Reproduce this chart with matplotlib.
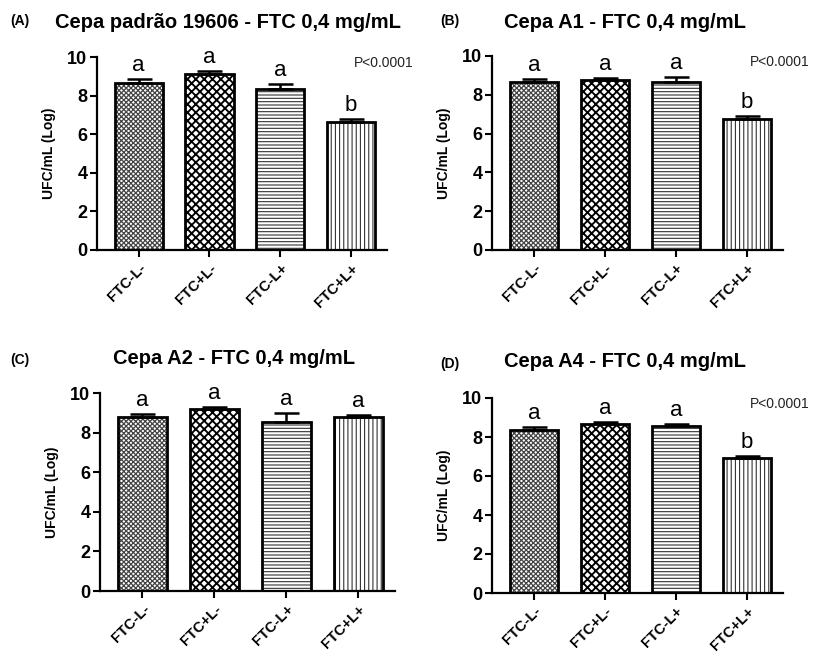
import numpy as np
import matplotlib
matplotlib.use("Agg")
import matplotlib.pyplot as plt

plt.rcParams["font.family"] = ["Liberation Sans", "DejaVu Sans"]

groups = ["FTC-L-", "FTC+L-", "FTC-L+", "FTC+L+"]
# hatch, hatch colour, hatch line width per group
hatches = ["xxxxxxx", "xxxx", "-----", "||||"]
hatch_colors = ["#444444", "black", "#333333", "#333333"]
hatch_widths = [0.9, 1.35, 0.8, 0.8]

tags = ["(A)", "(B)", "(C)", "(D)"]
titles = [
    "Cepa padrão 19606 - FTC 0,4 mg/mL",
    "Cepa A1 - FTC 0,4 mg/mL",
    "Cepa A2 - FTC 0,4 mg/mL",
    "Cepa A4 - FTC 0,4 mg/mL",
]

means_a = [8.66, 9.10, 8.36, 6.62]
err_a = [0.22, 0.18, 0.26, 0.19]
means_b = [8.66, 8.76, 8.66, 6.74]
err_b = [0.17, 0.11, 0.24, 0.18]
means_c = [8.81, 9.18, 8.54, 8.79]
err_c = [0.11, 0.10, 0.45, 0.12]
means_d = [8.38, 8.68, 8.58, 6.92]
err_d = [0.13, 0.07, 0.10, 0.09]

letters_a = ["a", "a", "a", "b"]
letters_b = ["a", "a", "a", "b"]
letters_c = ["a", "a", "a", "a"]
letters_d = ["a", "a", "a", "b"]

pvals = ["P<0.0001", "P<0.0001", None, "P<0.0001"]

W, H = 820, 663
fig = plt.figure(figsize=(W / 100, H / 100), dpi=100)


def px_axes(l, t, r, b):
    return fig.add_axes([l / W, 1 - b / H, (r - l) / W, (b - t) / H])


boxes = [(97, 57, 387, 250), (492, 56, 783, 250),
         (100, 393, 395, 591), (492, 398, 783, 593)]
data = [(means_a, err_a, letters_a), (means_b, err_b, letters_b),
        (means_c, err_c, letters_c), (means_d, err_d, letters_d)]

x = np.arange(len(groups))
for i, (box, (m, e, let)) in enumerate(zip(boxes, data)):
    ax = px_axes(*box)
    # hatched fill first, then black outline on top
    for j in range(len(groups)):
        with plt.rc_context({"hatch.linewidth": hatch_widths[j]}):
            b = ax.bar(x[j], m[j], width=0.68, color="white",
                       edgecolor=hatch_colors[j], linewidth=0,
                       hatch=hatches[j], zorder=2)
        if hasattr(b[0], "set_hatch_linewidth"):
            b[0].set_hatch_linewidth(hatch_widths[j])
    ax.bar(x, m, width=0.68, fill=False, edgecolor="black",
           linewidth=2, zorder=3)
    ax.errorbar(x, m, yerr=[np.zeros(len(e)), e], fmt="none",
                ecolor="black", elinewidth=1.8, capsize=9, capthick=1.8, zorder=4)
    for xi, mi, ei, li in zip(x, m, e, let):
        ax.text(xi, mi + ei + 0.15, li, ha="center", va="bottom", fontsize=16)
    ax.set_xlim(-0.59, 3.51)
    ax.set_ylim(0, 10)
    ax.set_yticks([0, 2, 4, 6, 8, 10])
    ax.set_xticks(x)
    ax.set_xticklabels(groups, rotation=45, ha="right", rotation_mode="anchor",
                       fontsize=10.5, fontweight="bold")
    for lab in ax.get_yticklabels():
        lab.set_fontweight("bold")
        lab.set_fontsize(13)
    ax.tick_params(width=1.5, length=5, direction="out")
    ax.tick_params(axis="y", pad=2)
    ax.tick_params(axis="x", pad=3)
    ax.spines["top"].set_visible(False)
    ax.spines["right"].set_visible(False)
    ax.spines["left"].set_linewidth(1.6)
    ax.spines["bottom"].set_linewidth(1.6)
    ax.set_ylabel("UFC/mL (Log)", fontsize=10, fontweight="bold", labelpad=8)
    if pvals[i]:
        ax.text(0.885, 0.97, pvals[i], transform=ax.transAxes,
                ha="left", va="center", fontsize=10, color="#222222")

# panel tags and titles
tag_pos = [(10, 21), (440, 21), (10, 360), (440, 364)]
title_pos = [(228, 22), (625, 22), (234, 358), (625, 362)]
for tg, tp, tt, tpos in zip(tags, tag_pos, titles, title_pos):
    fig.text(tp[0] / W, 1 - tp[1] / H, tg,
             fontsize=10, fontweight="bold", ha="left", va="center")
    fig.text(tpos[0] / W, 1 - tpos[1] / H, tt, fontsize=14.5,
             fontweight="bold", ha="center", va="center")

fig.savefig("out.png", dpi=100)
